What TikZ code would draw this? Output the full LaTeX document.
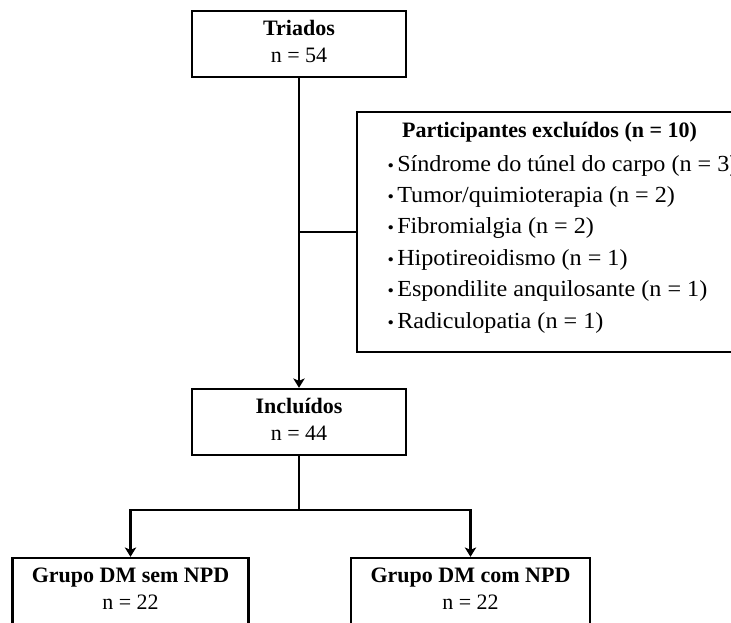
\documentclass[tikz,border=0pt]{standalone}
\usepackage{fontspec}
\setmainfont{Liberation Serif}
\newfontfamily\itemfont{Liberation Serif}[FakeStretch=1.05]
\usetikzlibrary{arrows.meta}
\newcommand{\bul}{\llap{{\fontsize{13pt}{13pt}\selectfont •}\hspace{2.5pt}}}
\newcommand{\topstrut}{\rule{0pt}{11.5pt}}
\newcommand{\botstrut}{\rule[-4.6pt]{0pt}{0pt}}
\begin{document}
\begin{tikzpicture}[x=0.75pt,y=-0.75pt,
  box/.style={draw, line width=1.8pt, minimum width=160.5pt, minimum height=49.5pt,
    inner sep=0pt, align=center, font=\fontsize{16.5pt}{20.25pt}\selectfont},
  conn/.style={line width=1.6pt},
  arr/.style={conn, -{Stealth[length=7pt,width=8.5pt,inset=1.8pt]}},
  itemtext/.style={inner sep=0pt, anchor=base west, font=\itemfont\fontsize{17.25pt}{17.25pt}\selectfont},
  excbox/.style={draw, line width=1.8pt, minimum width=291pt, minimum height=180pt, inner sep=0pt}]
\useasboundingbox (0,0) rectangle (731,622);
\clip (0,0) rectangle (731,622);
% boxes
\node[box] (tri) at (299,44) {\textbf{\topstrut Triados}\\n = 54\botstrut};
\node[box] (inc) at (299,422) {\textbf{\topstrut Incluídos}\\n = 44\botstrut};
\node[box, minimum width=177pt] (g1) at (130.5,591) {\textbf{\topstrut Grupo DM sem NPD}\\n = 22\botstrut};
\node[box, minimum width=179pt] (g2) at (470.5,591) {\textbf{\topstrut Grupo DM com NPD}\\n = 22\botstrut};
% exclusion box
\node[excbox] (excl) at (551,232) {};
\node[inner sep=0pt, anchor=base, font=\bfseries\fontsize{16.5pt}{16.5pt}\selectfont] (ttl) at (549.5,137) {Participantes excluídos (n = 10)};
\foreach \t [count=\k] in {Síndrome do túnel do carpo (n = 3),Tumor/quimioterapia (n = 2),Fibromialgia (n = 2),Hipotireoidismo (n = 1),Espondilite anquilosante (n = 1),Radiculopatia (n = 1)}
  \node[itemtext] (i\k) at (397,{171+31.4*(\k-1)}) {\bul\t};
% connectors
\draw[arr] (tri.south) -- (inc.north);
\draw[conn] (tri.south |- excl.west) -- (excl.west);
\coordinate (sp) at (299,510);
\draw[conn] (inc.south) -- (sp);
\draw[arr] (sp) -| (g1.north);
\draw[arr] (sp) -| (g2.north);
\end{tikzpicture}
\end{document}
